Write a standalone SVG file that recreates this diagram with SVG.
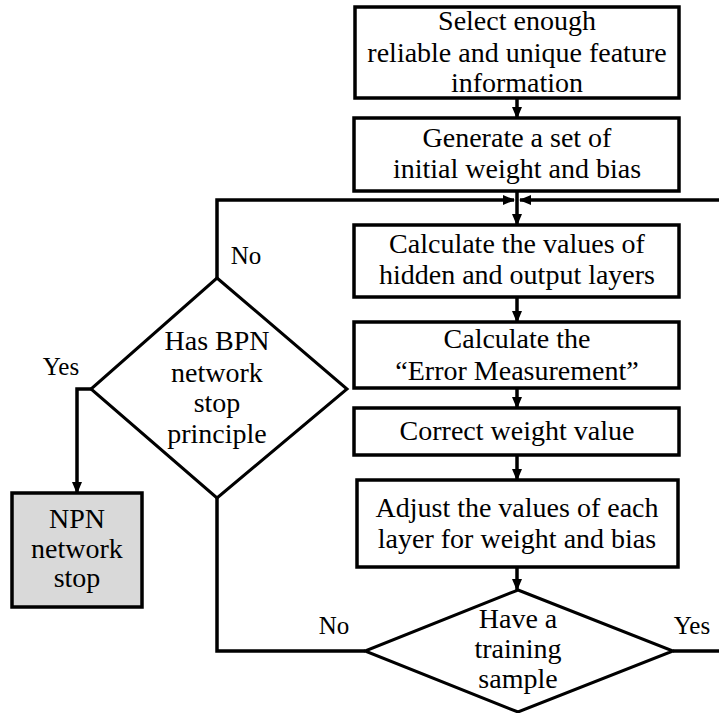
<svg xmlns="http://www.w3.org/2000/svg" width="719" height="713" viewBox="0 0 719 713">
<defs>
<marker id="ah" markerUnits="userSpaceOnUse" markerWidth="12" markerHeight="12" viewBox="0 0 12 12" refX="11" refY="6" orient="auto">
<path d="M0,1 L12,6 L0,11 Z" fill="#000"/>
</marker>
<style>
.box{fill:#fff;stroke:#000;stroke-width:3.5}
.dia{fill:#fff;stroke:#000;stroke-width:3}
.ln{fill:none;stroke:#000;stroke-width:3.5}
.ar{fill:none;stroke:#000;stroke-width:3.5;marker-end:url(#ah)}
text{font-size:28px;fill:#000;text-anchor:middle}
.lb{font-size:25px}
</style>
</defs>
<rect width="719" height="713" fill="#fff"/>
<g font-family="Liberation Serif, Times New Roman, serif">
<g id="connectors">
<line class="ar" x1="517" y1="98" x2="517" y2="118"/>
<line class="ar" x1="517" y1="191" x2="517" y2="225"/>
<polyline class="ar" points="217,278 217,200 514,200"/>
<line class="ar" x1="719" y1="200" x2="520" y2="200"/>
<line class="ar" x1="517" y1="297" x2="517" y2="322"/>
<line class="ar" x1="517" y1="388" x2="517" y2="408"/>
<line class="ar" x1="517" y1="455" x2="517" y2="480"/>
<line class="ar" x1="517" y1="567" x2="517" y2="590"/>
<polyline class="ar" points="91,389 77,389 77,493"/>
<polyline class="ln" points="365,651 217,651 217,498"/>
<line class="ln" x1="673" y1="651" x2="719" y2="651"/>
<text class="lb" x="246" y="264">No</text>
<text class="lb" x="61" y="375">Yes</text>
<text class="lb" x="334" y="634">No</text>
<text class="lb" x="692" y="634">Yes</text>
</g>
<g id="n1">
<rect class="box" x="355" y="7" width="324" height="91"/>
<text x="517" y="30">Select enough</text>
<text x="517" y="62">reliable and unique feature</text>
<text x="517" y="92">information</text>
</g>
<g id="n2">
<rect class="box" x="354" y="118" width="325" height="73"/>
<text x="517" y="147">Generate a set of</text>
<text x="517" y="178">initial weight and bias</text>
</g>
<g id="n3">
<rect class="box" x="354" y="225" width="325" height="72"/>
<text x="517" y="253">Calculate the values of</text>
<text x="517" y="284">hidden and output layers</text>
</g>
<g id="n4">
<rect class="box" x="354" y="322" width="325" height="66"/>
<text x="517" y="348">Calculate the</text>
<text x="517" y="380">“Error Measurement”</text>
</g>
<g id="n5">
<rect class="box" x="354" y="408" width="325" height="47"/>
<text x="517" y="440">Correct weight value</text>
</g>
<g id="n6">
<rect class="box" x="357" y="480" width="321" height="87"/>
<text x="517" y="517">Adjust the values of each</text>
<text x="517" y="548">layer for weight and bias</text>
</g>
<g id="d2">
<polygon class="dia" points="518,590 673,651 518,712 365,651"/>
<text x="518" y="628">Have a</text>
<text x="518" y="658">training</text>
<text x="518" y="688">sample</text>
</g>
<g id="d1">
<polygon class="dia" points="217,278 347,389 217,498 91,389"/>
<text x="217" y="350">Has BPN</text>
<text x="217" y="382">network</text>
<text x="217" y="412">stop</text>
<text x="217" y="443">principle</text>
</g>
<g id="n7">
<rect x="12" y="493" width="130" height="114" fill="#d9d9d9" stroke="#000" stroke-width="3.5"/>
<text x="77" y="528">NPN</text>
<text x="77" y="558">network</text>
<text x="77" y="587">stop</text>
</g>
</g>
</svg>
